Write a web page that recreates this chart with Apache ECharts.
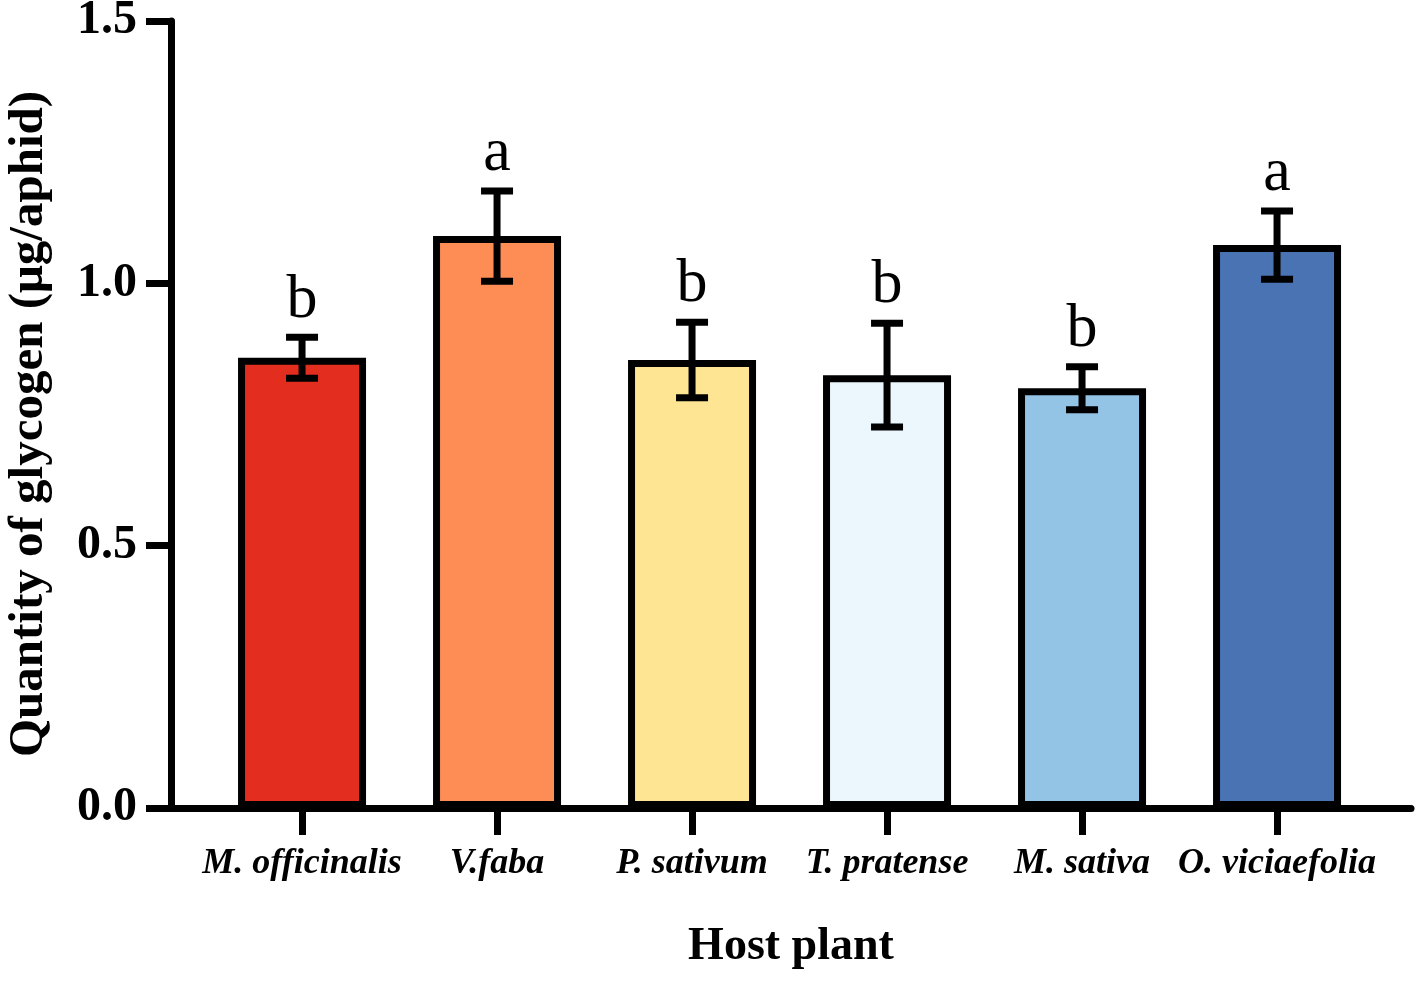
<!DOCTYPE html>
<html>
<head>
  <meta charset="utf-8">
  <title>glycogen</title>
  <script src="https://cdn.jsdelivr.net/npm/echarts@6/dist/echarts.min.js"></script>
  <style>
    html, body { margin: 0; padding: 0; background: #fff; }
  </style>
</head>
<body>
  <div id="main" style="width: 1417px; height: 983px;"></div>
  <script type="text/javascript">
    // 数据
    var plants = ['M. officinalis', 'V.faba', 'P. sativum', 'T. pratense', 'M. sativa', 'O. viciaefolia']
    var means = [0.858, 1.090, 0.854, 0.825, 0.800, 1.073]
    var errors = [0.039, 0.086, 0.072, 0.099, 0.041, 0.065]
    var letters = ['b', 'a', 'b', 'b', 'b', 'a']
    var colors = ['#E32D1F', '#FD8D55', '#FEE593', '#EBF7FC', '#93C3E5', '#4A73B4']

    var serif = '"Times New Roman", "Liberation Serif", serif'

    var barData = []
    var errData = []
    for (var i = 0; i < plants.length; i++) {
      barData.push({
        value: [i, means[i]],
        itemStyle: { color: colors[i] }
      })
      errData.push([i, means[i], errors[i]])
    }

    var myChart = echarts.init(document.getElementById('main'))

    var option = {
      animation: false,
      grid: {
        left: 171,
        right: 6,
        top: 21,
        bottom: 175,
        outerBoundsMode: 'none'
      },
      xAxis: {
        type: 'value',
        min: -0.672,
        max: 5.687,
        name: 'Host plant',
        nameLocation: 'middle',
        nameGap: 116,
        nameTextStyle: {
          fontFamily: serif,
          fontWeight: 'bold',
          fontSize: 46,
          color: '#000'
        },
        splitLine: { show: false },
        axisLine: {
          onZero: false,
          lineStyle: { color: '#000', width: 7 }
        },
        axisTick: {
          show: true,
          length: 27,
          customValues: [0, 1, 2, 3, 4, 5],
          lineStyle: { color: '#000', width: 7 }
        },
        axisLabel: {
          customValues: [0, 1, 2, 3, 4, 5],
          margin: 38,
          fontFamily: serif,
          fontWeight: 'bold',
          fontStyle: 'italic',
          fontSize: 36,
          color: '#000',
          formatter: function (v) {
            return plants[Math.round(v)]
          }
        }
      },
      yAxis: {
        type: 'value',
        min: 0,
        max: 1.5,
        interval: 0.5,
        name: 'Quantity of glycogen (\u03bcg/aphid)',
        nameLocation: 'middle',
        nameGap: 117,
        nameTextStyle: {
          fontFamily: serif,
          fontWeight: 'bold',
          fontSize: 49,
          color: '#000',
          padding: [0, 19, 0, 0]
        },
        splitLine: { show: false },
        axisLine: {
          show: true,
          onZero: false,
          lineStyle: { color: '#000', width: 7 }
        },
        axisTick: {
          show: true,
          length: 25,
          lineStyle: { color: '#000', width: 7 }
        },
        axisLabel: {
          margin: 34,
          fontFamily: serif,
          fontWeight: 'bold',
          fontSize: 48,
          color: '#000',
          formatter: function (v) {
            return v.toFixed(1)
          }
        }
      },
      series: [{
        type: 'bar',
        data: barData,
        barWidth: 128,
        itemStyle: {
          borderColor: '#000',
          borderWidth: 7
        },
        z: 2
      }, {
        // 误差线和显著性字母
        type: 'custom',
        data: errData,
        z: 5,
        renderItem: function (params, api) {
          var x = api.value(0)
          var m = api.value(1)
          var e = api.value(2)
          var top = api.coord([x, m + e])
          var bot = api.coord([x, m - e])
          var hw = 16
          var ls = { stroke: '#000', lineWidth: 7 }
          return {
            type: 'group',
            children: [
              { type: 'line', shape: { x1: top[0], y1: top[1], x2: bot[0], y2: bot[1] }, style: ls },
              { type: 'line', shape: { x1: top[0] - hw, y1: top[1], x2: top[0] + hw, y2: top[1] }, style: ls },
              { type: 'line', shape: { x1: bot[0] - hw, y1: bot[1], x2: bot[0] + hw, y2: bot[1] }, style: ls },
              {
                type: 'text',
                x: top[0],
                y: top[1] - 6,
                style: {
                  text: letters[params.dataIndex],
                  align: 'center',
                  verticalAlign: 'bottom',
                  fontFamily: serif,
                  fontSize: 62,
                  fill: '#000'
                }
              }
            ]
          }
        }
      }]
    }

    myChart.setOption(option)
  </script>
</body>
</html>
